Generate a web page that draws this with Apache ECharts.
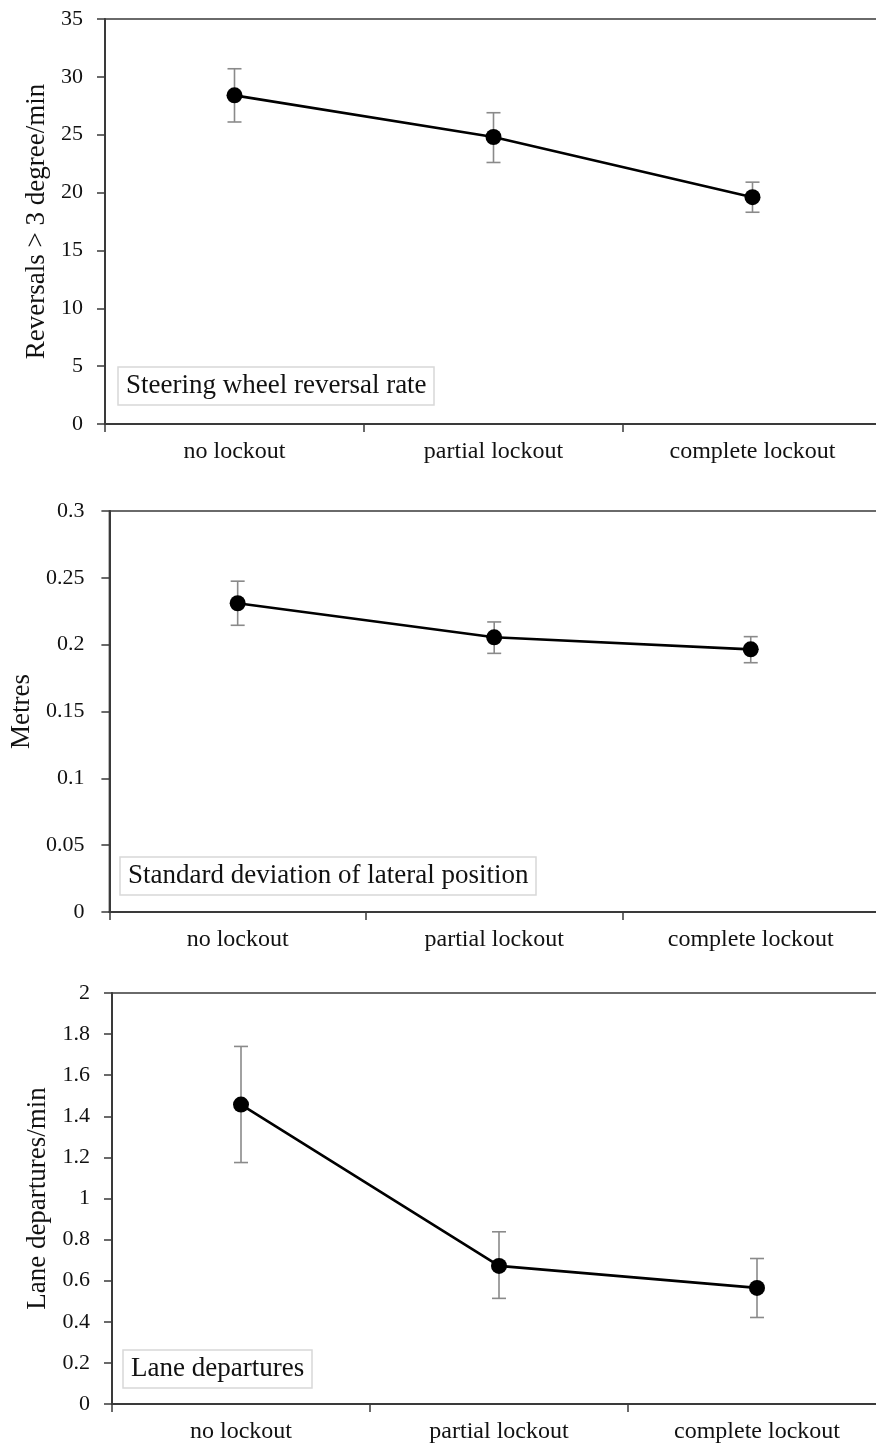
<!DOCTYPE html>
<html>
<head>
<meta charset="utf-8">
<script src="https://cdn.jsdelivr.net/npm/echarts@6/dist/echarts.min.js"></script>
<style>
html,body{margin:0;padding:0;background:#fff;overflow:hidden;}
#chart{width:900px;height:1447px;}
</style>
</head>
<body>
<div id="chart"></div>
<script>
// ---- data ----
const categories = ['no lockout', 'partial lockout', 'complete lockout'];

const reversalMean = [28.4, 24.8, 19.6];
const reversalLow  = [26.1, 22.6, 18.3];
const reversalHigh = [30.7, 26.9, 20.9];

const sdlpMean = [0.231, 0.2055, 0.1965];
const sdlpLow  = [0.2145, 0.1935, 0.1865];
const sdlpHigh = [0.2475, 0.217, 0.206];

const laneMean = [1.457, 0.672, 0.565];
const laneLow  = [1.175, 0.514, 0.421];
const laneHigh = [1.740, 0.838, 0.708];

const yTitles = ['Reversals > 3 degree/min', 'Metres', 'Lane departures/min'];
const panelLabels = ['Steering wheel reversal rate', 'Standard deviation of lateral position', 'Lane departures'];
const yMax = [35, 0.3, 2];
const yInterval = [5, 0.05, 0.2];

// ---- layout / style ----
const FONT = '"Liberation Serif", "Times New Roman", serif';
const AXIS_COLOR = '#3a3a3a';
const grids = [
  {left: 105, top: 19, width: 777, height: 405},
  {left: 107, top: 511, width: 772, height: 401},
  {left: 112, top: 993, width: 774, height: 411}
];
const nameGaps = [55, 67, 57];
const labelMargins = [22, 25, 22];
const boxes = [
  {left: 118, top: 367},
  {left: 120, top: 857},
  {left: 123, top: 1350}
];

const means = [reversalMean, sdlpMean, laneMean];
const lows = [reversalLow, sdlpLow, laneLow];
const highs = [reversalHigh, sdlpHigh, laneHigh];

const xAxes = [], yAxes = [], series = [], titles = [];
for (let i = 0; i < 3; i++) {
  xAxes.push({
    type: 'category', gridIndex: i, data: categories, boundaryGap: true,
    axisLine: {lineStyle: {color: AXIS_COLOR, width: 2}},
    axisTick: {show: true, interval: 0, length: 8, inside: false, lineStyle: {color: AXIS_COLOR, width: 1.5}},
    axisLabel: {interval: 0, margin: 16, color: '#111', fontFamily: FONT, fontSize: 24}
  });
  yAxes.push({
    type: 'value', gridIndex: i, min: 0, max: yMax[i], interval: yInterval[i],
    name: yTitles[i], nameLocation: 'middle', nameGap: nameGaps[i], nameRotate: 90,
    nameTextStyle: {color: '#111', fontFamily: FONT, fontSize: 27},
    axisLine: {show: true, lineStyle: {color: AXIS_COLOR, width: 2}},
    axisTick: {show: true, length: 8, lineStyle: {color: AXIS_COLOR, width: 1.5}},
    axisLabel: {margin: labelMargins[i], color: '#111', fontFamily: FONT, fontSize: 22},
    splitLine: {show: false}
  });
  const errData = categories.map((c, k) => [k, lows[i][k], highs[i][k]]);
  series.push({
    type: 'custom', xAxisIndex: i, yAxisIndex: i, z: 1,
    data: errData,
    encode: {x: 0, y: [1, 2]},
    renderItem: function (params, api) {
      const x = api.value(0);
      const lo = api.coord([x, api.value(1)]);
      const hi = api.coord([x, api.value(2)]);
      const cap = 7;
      const st = {stroke: '#8a8a8a', lineWidth: 1.6};
      return {
        type: 'group',
        children: [
          {type: 'line', shape: {x1: lo[0], y1: lo[1], x2: hi[0], y2: hi[1]}, style: st},
          {type: 'line', shape: {x1: lo[0] - cap, y1: lo[1], x2: lo[0] + cap, y2: lo[1]}, style: st},
          {type: 'line', shape: {x1: hi[0] - cap, y1: hi[1], x2: hi[0] + cap, y2: hi[1]}, style: st}
        ]
      };
    }
  });
  series.push({
    type: 'line', xAxisIndex: i, yAxisIndex: i, z: 5,
    data: means[i],
    symbol: 'circle', symbolSize: 16,
    itemStyle: {color: '#000'},
    lineStyle: {color: '#000', width: 2.6},
    animation: false
  });
  titles.push({
    text: panelLabels[i], left: boxes[i].left, top: boxes[i].top,
    backgroundColor: '#fff', borderColor: '#d8d8d8', borderWidth: 1.5,
    padding: [5, 8, 6, 8],
    textStyle: {color: '#111', fontFamily: FONT, fontSize: 27, fontWeight: 'normal'}
  });
}

const chart = echarts.init(document.getElementById('chart'), null, {renderer: 'canvas'});
chart.setOption({
  animation: false,
  backgroundColor: '#fff',
  title: titles,
  grid: grids.map(g => Object.assign({show: true, borderColor: AXIS_COLOR, borderWidth: 1.5, backgroundColor: 'transparent', containLabel: false}, g)),
  xAxis: xAxes,
  yAxis: yAxes,
  series: series
});
</script>
</body>
</html>
